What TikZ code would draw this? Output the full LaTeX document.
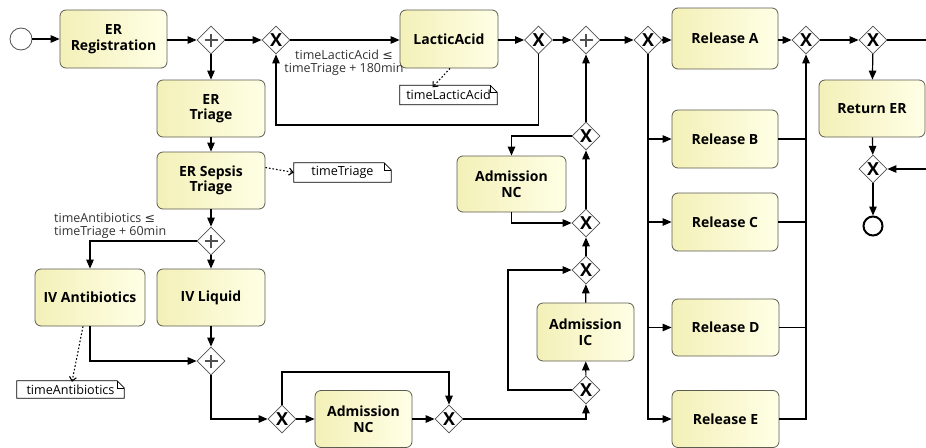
\documentclass[tikz,border=0pt]{standalone}
\usepackage{fontspec}
\setmainfont{Open Sans}
\newfontfamily\symf{DejaVu Sans}
\usetikzlibrary{shapes.geometric,arrows.meta,calc}
\definecolor{taskA}{HTML}{F3F0B8}
\definecolor{taskB}{HTML}{FFFFE6}
\definecolor{taskline}{HTML}{5C5C50}
\definecolor{gateline}{HTML}{505050}
\definecolor{labeltext}{HTML}{333333}
\tikzset{
 task/.style={draw=taskline, line width=0.8pt, rounded corners=6pt, left color=taskA, right color=taskB, align=center, font=\fontsize{14}{15.5}\selectfont\bfseries, inner sep=2pt},
 gw/.style={diamond, draw=gateline, fill=white, line width=0.8pt, minimum width=28pt, minimum height=28pt, inner sep=0pt},
 xgw/.style={gw, font=\fontsize{18}{18}\selectfont\bfseries},
 pgw/.style={gw, path picture={\draw[line width=2.4pt] ([xshift=-6.5pt]path picture bounding box.center) -- ([xshift=6.5pt]path picture bounding box.center); \draw[line width=2.4pt] ([yshift=-6.5pt]path picture bounding box.center) -- ([yshift=6.5pt]path picture bounding box.center);}},
 flow/.style={line width=1.2pt, -{Triangle[length=9pt,width=7.5pt]}},
 plainline/.style={line width=1.2pt},
 assoc/.style={line width=1.1pt, dash pattern=on 1.6pt off 2pt, -{Straight Barb[length=4pt,width=7pt]}},
 notebox/.style={font=\fontsize{12.6}{14}\selectfont, inner sep=0pt},
 notedraw/.style={line width=0.8pt, draw=black},
 cond/.style={font=\fontsize{12.5}{12.5}\selectfont, text=labeltext, inner sep=0pt},
 startev/.style={circle, draw=gateline, line width=0.8pt, fill=white, minimum size=22pt, inner sep=0pt},
 endev/.style={circle, draw=black, line width=2pt, fill=white, minimum size=19pt, inner sep=0pt},
}
\newcommand{\dognote}[1]{%
 \draw[notedraw] (#1.north west) -- ([xshift=-7pt]#1.north east) -- ([yshift=-7pt]#1.north east) -- (#1.south east) -- (#1.south west) -- cycle;
 \draw[line width=0.6pt] ([xshift=-7pt]#1.north east) -- ([xshift=-7pt,yshift=-7pt]#1.north east) -- ([yshift=-7pt]#1.north east);}
\begin{document}
\begin{tikzpicture}[x=1pt,y=-1pt]
\useasboundingbox (0,0) rectangle (926,447);
% events
\node[startev] (start) at (21,39) {};
\node[endev] (end) at (873,226) {};
% tasks
\node[task, minimum width=107pt, minimum height=58pt] (reg) at (113.5,39) {ER\\Registration};
\node[task, minimum width=108pt, minimum height=57pt] (triage) at (211,108.5) {ER\\Triage};
\node[task, minimum width=108pt, minimum height=57pt] (sepsis) at (211,180.5) {ER Sepsis\\Triage};
\node[task, minimum width=110pt, minimum height=57pt] (ivab) at (90,297.5) {IV Antibiotics};
\node[task, minimum width=108pt, minimum height=57pt] (ivliq) at (211,297.5) {IV Liquid};
\node[task, minimum width=97pt, minimum height=57pt] (admnc2) at (363.5,419) {Admission\\NC};
\node[task, minimum width=97pt, minimum height=58pt] (admic) at (585.5,332) {Admission\\IC};
\node[task, minimum width=109pt, minimum height=56pt] (admnc1) at (511.5,184) {Admission\\NC};
\node[task, minimum width=98pt, minimum height=58pt] (lactic) at (449,39) {LacticAcid};
\node[task, minimum width=106pt, minimum height=61pt] (relA) at (725,38.5) {Release A};
\node[task, minimum width=106pt, minimum height=58pt] (relB) at (725,139) {Release B};
\node[task, minimum width=106pt, minimum height=58pt] (relC) at (725,222) {Release C};
\node[task, minimum width=107pt, minimum height=57pt] (relD) at (725.5,327.5) {Release D};
\node[task, minimum width=107pt, minimum height=57pt] (relE) at (725.5,419) {Release E};
\node[task, minimum width=106pt, minimum height=57pt] (retER) at (872,108.5) {Return ER};
% gateways
\node[pgw] (g1) at (211,40) {};
\node[xgw] (g2) at (276,40) {X};
\node[xgw] (g3) at (538.5,40) {X};
\node[pgw] (g4) at (586,40) {};
\node[xgw] (g5) at (648,40) {X};
\node[xgw] (g6) at (806,40) {X};
\node[xgw] (g7) at (873,40) {X};
\node[xgw] (g8) at (873,169) {X};
\node[pgw] (g9) at (211,241) {};
\node[pgw] (g10) at (211,361) {};
\node[xgw] (g11) at (282,419) {X};
\node[xgw] (g12) at (449,419) {X};
\node[xgw] (g13) at (586,390) {X};
\node[xgw] (g14) at (586,270) {X};
\node[xgw] (g15) at (586,223) {X};
\node[xgw] (g16) at (586,136) {X};
% free ends
\coordinate (outA) at (926,40);
\coordinate (inB) at (926,169);
% notes
\node[notebox, minimum width=97pt, minimum height=19pt] (nTriage) at (342.5,172.5) {timeTriage};
\node[notebox, minimum width=97pt, minimum height=19pt] (nLactic) at (448.5,95) {timeLacticAcid};
\node[notebox, minimum width=107pt, minimum height=17pt] (nAnti) at (70.5,389.5) {timeAntibiotics};
\dognote{nTriage}
\dognote{nLactic}
\dognote{nAnti}
% condition labels
\node[cond, align=center] (cLactic) at (344,63) {timeLacticAcid {\symf ≤}\\timeTriage + 180min};
\node[cond, align=left, anchor=west] (cAnti) at (54,225.5) {timeAntibiotics {\symf ≤}\\timeTriage + 60min};
% main line
\draw[flow] (start) -- (reg);
\draw[flow] (reg.east |- g1) -- (g1);
\draw[flow] (g1) -- (g2);
\draw[flow] (g1) -- (triage);
\draw[flow] (g2) -- (lactic.west |- g2);
\draw[flow] (lactic.east |- g3) -- (g3);
\draw[flow] (g3) -- (g4);
\draw[flow] (g4) -- (g5);
\draw[flow] (g5) -- (relA.west |- g5);
\draw[flow] (relA.east |- g6) -- (g6);
\draw[flow] (g6) -- (g7);
\draw[plainline] (g7) -- (outA);
\draw[flow] (g7) -- (retER);
\draw[flow] (retER) -- (g8);
\draw[flow] (inB) -- (g8);
\draw[flow] (g8) -- (end);
\draw[flow] (g3.south) |- (276,125) -- (g2.south);
% triage branch
\draw[flow] (triage) -- (sepsis);
\draw[flow] (sepsis) -- (g9);
\draw[flow] (g9) -- (ivliq);
\draw[flow] (g9.west) -| (ivab.north);
\draw[flow] (ivliq) -- (g10);
\draw[flow] (ivab.south) |- (g10.west);
\draw[flow] (g10.south) |- (g11.west);
\draw[flow] (g11) -- (admnc2);
\draw[flow] (admnc2) -- (g12);
\draw[flow] (g11.north) |- (449,372) -- (g12.north);
\draw[flow] (g12.east) -| (g13.south);
\draw[flow] (g13) -- (admic);
\draw[flow] (admic) -- (g14);
\draw[flow] (g13.west) -- (508,390) |- (g14.west);
\draw[flow] (g14) -- (g15);
\draw[flow] (g15) -- (g16);
\draw[flow] (g16.west) -| (admnc1.north);
\draw[flow] (admnc1.south) |- (g15.west);
\draw[flow] (g16) -- (g4);
% release branches
\draw[flow] (g5.south) |- (relE.west);
\draw[flow] (g5.south |- relB) -- (relB.west);
\draw[flow] (g5.south |- relC) -- (relC.west);
\draw[flow] (g5.south |- relD) -- (relD.west);
\draw[plainline] (relB.east) -- (g6.south |- relB);
\draw[plainline] (relC.east) -- (g6.south |- relC);
\draw[plainline] (relD.east) -- (g6.south |- relD);
\draw[flow] (relE.east) -| (g6.south);
% associations
\draw[assoc] ([yshift=13pt]sepsis.east) -- (nTriage.west);
\draw[assoc] ([xshift=1pt]lactic.south) -- ([xshift=-16pt,yshift=-2pt]nLactic.north);
\draw[assoc] ([xshift=-7pt]ivab.south) -- ([xshift=1.5pt,yshift=-1pt]nAnti.north);
\end{tikzpicture}
\end{document}
